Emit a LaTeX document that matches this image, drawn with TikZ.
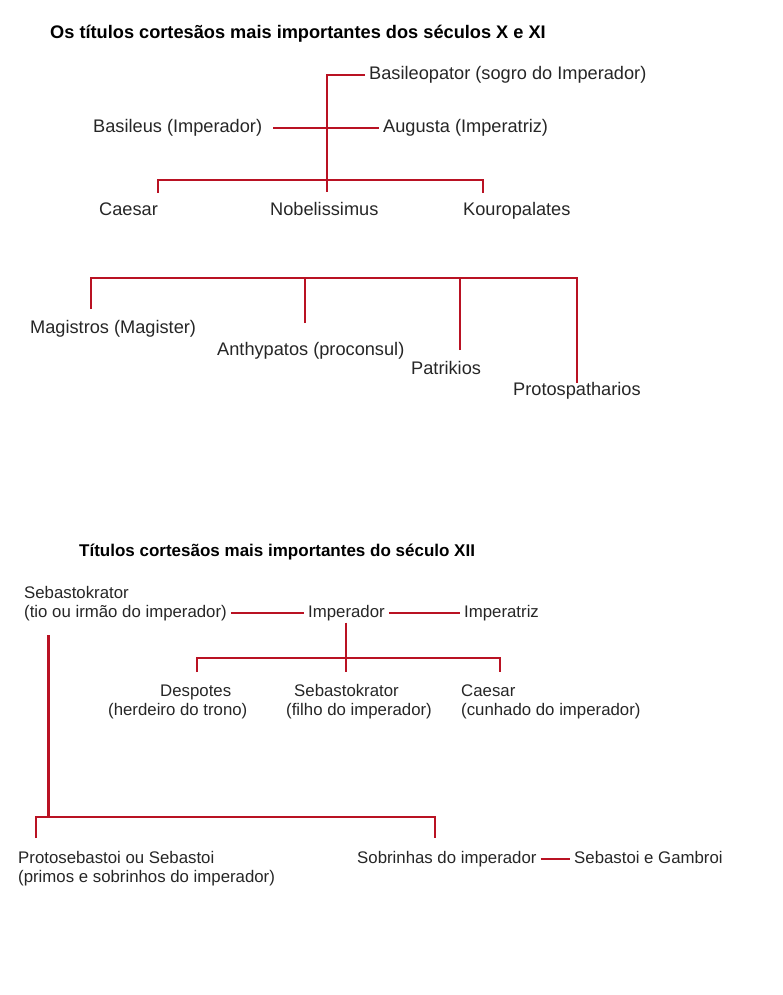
\documentclass[tikz,border=0pt]{standalone}
\usepackage{fontspec}
\setmainfont{Liberation Sans}
\usepackage{tikz}
\usepackage{xcolor}
\definecolor{linered}{RGB}{185,18,35}

\begin{document}
\begin{tikzpicture}[x=1pt,y=-1pt,
  redline/.style={draw=linered,line width=2.2pt},
  lbl/.style={anchor=base west,inner xsep=4pt,inner ysep=2pt,text=black!85,font=\fontsize{18.2}{20}\selectfont},
  lblsm/.style={lbl,font=\fontsize{16.8}{19}\selectfont,align=left},
  ttl/.style={anchor=base west,inner sep=0pt,font=\bfseries\fontsize{18.2}{20}\selectfont}]
\useasboundingbox (0,0) rectangle (783,995);
\node[ttl] (title1) at (50,39) {Os títulos cortesãos mais importantes dos séculos X e XI};
\node[lbl] (basileopator) at (365,80) {Basileopator (sogro do Imperador)};
\node[lbl] (basileus) at (89,133) {Basileus (Imperador)};
\node[lbl] (augusta) at (379,133) {Augusta (Imperatriz)};
\node[lbl] (caesar) at (95,215) {Caesar};
\node[lbl] (nobelissimus) at (266,215) {Nobelissimus};
\node[lbl] (kouropalates) at (459,215) {Kouropalates};
\coordinate (trunk) at (327,192); \coordinate (bar1) at (327,180);
\coordinate (dCaesar) at (158,193); \coordinate (dKouro) at (483,193);
\draw[redline] (basileopator.west) -| (trunk);
\draw[redline] ([xshift=7pt]basileus.east) -- (augusta.west);
\draw[redline] (dCaesar) |- (bar1) -| (dKouro);

\node[lbl] (magistros) at (26,333) {Magistros (Magister)};
\node[lbl] (anthypatos) at (213,355) {Anthypatos (proconsul)};
\node[lbl] (patrikios) at (407,374) {Patrikios};
\node[lbl] (protospatharios) at (509,395) {Protospatharios};
\coordinate (bar2l) at (91,278); \coordinate (bar2r) at (577,278);
\coordinate (dMagistros) at (91,309); \coordinate (dAnthypatos) at (305,323);
\coordinate (dPatrikios) at (460,350); \coordinate (dProto) at (577,383);
\draw[redline] (dMagistros) -- (bar2l) -- (bar2r) -- (dProto);
\foreach \d in {dAnthypatos,dPatrikios} \draw[redline] (\d) -- (\d |- bar2l);

\node[ttl,font=\bfseries\fontsize{17}{20}\selectfont] (title2) at (79,556) {Títulos cortesãos mais importantes do século XII};
\node[lblsm] (tio) at (20,617) {Sebastokrator\\(tio ou irmão do imperador)};
\node[lblsm] (imperador) at (304,617) {Imperador};
\node[lblsm] (imperatriz) at (460,617) {Imperatriz};
\node[lblsm] (despotes) at (104,715) {\hspace*{52pt}Despotes\\(herdeiro do trono)};
\node[lblsm] (filho) at (282,715) {\hspace*{8pt}Sebastokrator\\(filho do imperador)};
\node[lblsm] (cunhado) at (457,715) {Caesar\\(cunhado do imperador)};
\node[lblsm] (protosebastoi) at (14,882) {Protosebastoi ou Sebastoi\\(primos e sobrinhos do imperador)};
\node[lblsm] (sobrinhas) at (353,863) {Sobrinhas do imperador};
\node[lblsm] (gambroi) at (570,863) {Sebastoi e Gambroi};
\coordinate (bar3) at (346,658); \coordinate (dDespotes) at (197,672);
\coordinate (dFilho) at (346,672); \coordinate (dCunhado) at (500,672);
\coordinate (trunk4) at (48.5,635); \coordinate (bar4) at (48.5,817);
\coordinate (dProtoseb) at (36,838); \coordinate (dSobrinhas) at (435,838);
\draw[redline] (tio.east |- imperador.west) -- (imperador.west);
\draw[redline] (imperador.east) -- (imperatriz.west);
\draw[redline] (dFilho |- imperador.south) -- (dFilho);
\draw[redline] (dDespotes) |- (bar3) -| (dCunhado);
\draw[redline] (trunk4) -- (bar4);
\draw[redline] (dProtoseb) |- (bar4) -| (dSobrinhas);
\draw[redline] (sobrinhas.east) -- (sobrinhas.east -| gambroi.west);
\end{tikzpicture}
\end{document}
